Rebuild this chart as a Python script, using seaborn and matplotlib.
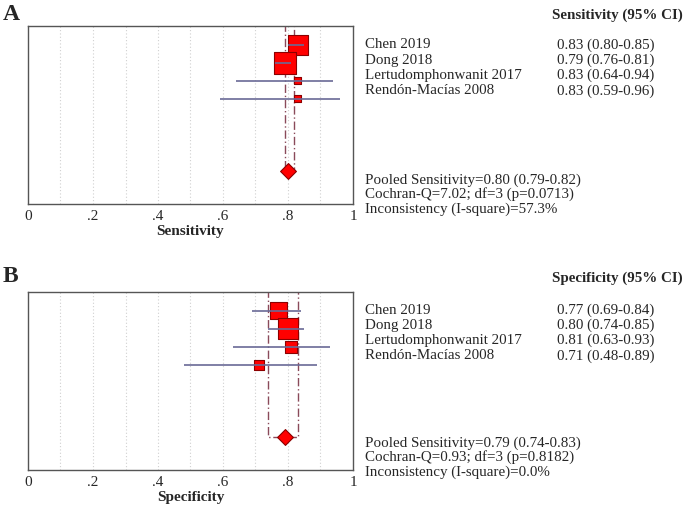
import numpy as np
import pandas as pd
import seaborn as sns
import matplotlib.pyplot as plt

# study data
studies = ["Chen 2019", "Dong 2018", "Lertudomphonwanit 2017", "Rendón-Macías 2008"]

sens_est = [0.83, 0.79, 0.83, 0.83]
sens_lo = [0.80, 0.76, 0.64, 0.59]
sens_hi = [0.85, 0.81, 0.94, 0.96]
sens_weight = [40, 49, 5.5, 5.5]
sens_pooled = [0.80, 0.79, 0.82]
sens_stats = ["Pooled Sensitivity=0.80 (0.79-0.82)",
              "Cochran-Q=7.02; df=3 (p=0.0713)",
              "Inconsistency (I-square)=57.3%"]

spec_est = [0.77, 0.80, 0.81, 0.71]
spec_lo = [0.69, 0.74, 0.63, 0.48]
spec_hi = [0.84, 0.85, 0.93, 0.89]
spec_weight = [30, 45, 15, 10]
spec_pooled = [0.79, 0.74, 0.83]
spec_stats = ["Pooled Sensitivity=0.79 (0.74-0.83)",
              "Cochran-Q=0.93; df=3 (p=0.8182)",
              "Inconsistency (I-square)=0.0%"]

tick_vals = [0, 0.2, 0.4, 0.6, 0.8, 1]
tick_labels = ["0", ".2", ".4", ".6", ".8", "1"]

sns.set_style("white")
plt.rcParams['font.family'] = ['Liberation Serif', 'DejaVu Serif']

W, H = 685, 508
fig = plt.figure(figsize=(W / 100, H / 100), dpi=100)

RED = "#ff0000"
DARKRED = "#8b0000"
CI_COLOR = "#6a6a96"
POOL_LINE = "#8a4a5a"
FS = 10.8


def px(x, y):
    return x / W, 1 - y / H


def forest(ax, est, lo, hi, weight, pooled, xlabel):
    rows = np.arange(len(est))
    pooled_row = 7
    df = pd.DataFrame({"est": est, "lo": lo, "hi": hi, "w": weight, "row": rows})

    for g in np.arange(0.1, 1.0, 0.1):
        ax.axvline(g, color="#d0d0d0", lw=0.8, ls=(0, (1, 2)), zorder=0)

    # pooled CI bracket
    ax.plot([pooled[1], pooled[1], pooled[2], pooled[2]],
            [-1.2, pooled_row, pooled_row, -1.2],
            color=POOL_LINE, lw=1.0, ls=(0, (6, 2, 1, 2)), zorder=1)

    # squares sized by weight
    sizes = (3.1 * np.sqrt(df["w"]) * 0.72) ** 2
    ax.scatter(df["est"], df["row"], s=sizes, marker="s", color=RED,
               edgecolor=DARKRED, linewidth=0.8, zorder=2)
    ax.hlines(df["row"], df["lo"], df["hi"], color=CI_COLOR, lw=1.2, zorder=3)

    sns.scatterplot(x=[pooled[0]], y=[pooled_row], marker="D", s=65, color=RED,
                    edgecolor=DARKRED, linewidth=0.8, ax=ax, zorder=4, legend=False)

    ax.set_xlim(0, 1)
    ax.set_ylim(8.85, -1.05)
    ax.set_yticks([])
    ax.set_xticks(tick_vals)
    ax.set_xticklabels(tick_labels, fontsize=11)
    ax.tick_params(axis="x", length=0, pad=4)
    ax.set_xlabel(xlabel, fontsize=11, fontweight="bold", labelpad=2)
    ax.set_ylabel("")
    for s in ax.spines.values():
        s.set_color("#555555")
        s.set_linewidth(1.0)


ax_a = fig.add_axes([28 / W, 1 - 204 / H, 325 / W, 178 / H])
forest(ax_a, sens_est, sens_lo, sens_hi, sens_weight, sens_pooled, "Sensitivity")

ax_b = fig.add_axes([28 / W, 1 - 470 / H, 325 / W, 178 / H])
forest(ax_b, spec_est, spec_lo, spec_hi, spec_weight, spec_pooled, "Specificity")


def side_text(header, est, lo, hi, stats, y_head, y_names, y_stats, letter, y_letter):
    fig.text(*px(3, y_letter), letter, fontsize=17, fontweight="bold", va="center", ha="left")
    fig.text(*px(683, y_head), header, fontsize=FS, fontweight="bold", va="center", ha="right")
    for i, name in enumerate(studies):
        y = y_names + i * 15.3
        fig.text(*px(365, y), name, fontsize=FS, va="center", ha="left")
        fig.text(*px(557, y), f"{est[i]:.2f} ({lo[i]:.2f}-{hi[i]:.2f})",
                 fontsize=FS, va="center", ha="left")
    for i, line in enumerate(stats):
        fig.text(*px(365, y_stats + i * 14.5), line, fontsize=FS, va="center", ha="left")


side_text("Sensitivity (95% CI)", sens_est, sens_lo, sens_hi, sens_stats, 15, 45, 180, "A", 15)
side_text("Specificity (95% CI)", spec_est, spec_lo, spec_hi, spec_stats, 278, 310, 443, "B", 276)

fig.savefig("out.png", dpi=100)
